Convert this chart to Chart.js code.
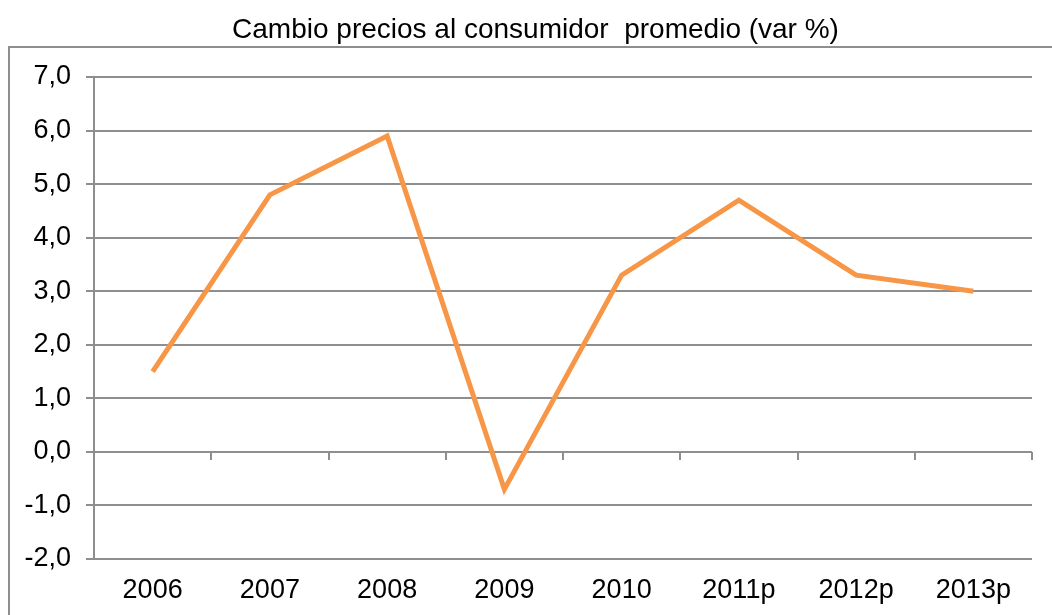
<!DOCTYPE html>
<html>
<head>
<meta charset="utf-8">
<script src="https://cdn.jsdelivr.net/npm/chart.js@4/dist/chart.umd.min.js"></script>
<style>
	html, body { margin: 0; padding: 0; background: #fff; }
	#wrap { position: relative; width: 1052px; height: 615px; overflow: hidden; }
	#frame { position: absolute; left: 8px; top: 46px; width: 1100px; height: 700px; border-left: 2px solid #8e8e8e; border-top: 2px solid #8e8e8e; }
	canvas { position: absolute; left: 0; top: 0; }
</style>
</head>
<body>
<div id="wrap">
	<div id="frame"></div>
	<canvas id="myChart" width="1052" height="615"></canvas>
</div>
<script>
const years = ['2006', '2007', '2008', '2009', '2010', '2011p', '2012p', '2013p'];
const ipc = [1.5, 4.8, 5.9, -0.7, 3.3, 4.7, 3.3, 3.0];
const yMin = -2;
const yMax = 7;
const titleText = 'Cambio precios al consumidor  promedio (var %)';

const gray = '#8e8e8e';
const labelFont = { family: "'Liberation Sans', Arial, sans-serif", size: 27 };

var ctx = document.getElementById('myChart').getContext('2d');
var myChart = new Chart(ctx, {
	type: 'line',
	data: {
		labels: years,
		datasets: [{
			label: 'var %',
			data: ipc,
			borderColor: '#F79646',
			backgroundColor: '#F79646',
			borderWidth: 5,
			pointRadius: 0,
			borderJoinStyle: 'miter',
			borderCapStyle: 'butt',
			tension: 0,
			fill: false
		}]
	},
	options: {
		responsive: false,
		animation: false,
		layout: { padding: { left: 19, right: 0, top: 0, bottom: 0 } },
		plugins: {
			legend: { display: false },
			tooltip: { enabled: false },
			title: {
				display: true,
				text: titleText,
				color: '#000',
				font: { family: "'Liberation Sans', Arial, sans-serif", size: 28, weight: 'normal', lineHeight: 1.2 },
				padding: { top: 13, bottom: 30.4 }
			}
		},
		scales: {
			x: {
				type: 'category',
				position: 'bottom',
				offset: true,
				grid: { display: false, drawTicks: false },
				border: { display: false },
				ticks: { color: '#000', font: labelFont, padding: 15, maxRotation: 0 },
				afterFit: s => { s.height = 56; }
			},
			x0: {
				type: 'category',
				position: { y: 0 },
				offset: true,
				grid: { offset: true, drawOnChartArea: false, drawTicks: true, tickLength: 8, tickColor: gray, lineWidth: 2 },
				border: { display: false },
				ticks: { display: false }
			},
			y: {
				min: yMin,
				max: yMax,
				ticks: {
					stepSize: 1,
					color: '#000',
					font: labelFont,
					padding: 15,
					callback: v => v.toFixed(1).replace('.', ',')
				},
				grid: { color: gray, lineWidth: 2, tickLength: 8, tickColor: gray },
				border: { display: true, color: gray, width: 2 },
				afterFit: s => { s.width = 75; }
			},
			// empty strip on the right, keeps the plot 20px from the edge
			yR: {
				position: 'right',
				ticks: { display: false },
				grid: { display: false, drawTicks: false },
				border: { display: false },
				afterFit: s => { s.width = 20; }
			}
		}
	}
});
</script>
</body>
</html>
